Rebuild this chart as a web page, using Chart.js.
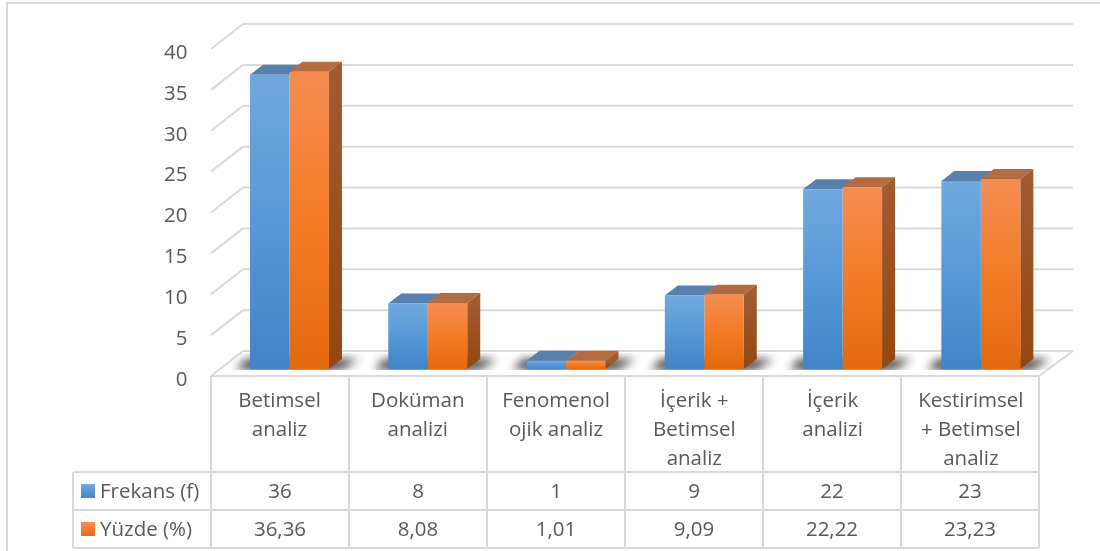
<!DOCTYPE html>
<html lang="tr">
<head>
  <meta charset="UTF-8" />
  <title>Frekans ve Yüzde</title>
  <style>
    html, body { margin: 0; padding: 0; background: #fff; }
    canvas { display: block; }
  </style>
</head>
<body>
  <canvas id="chart" width="1100" height="551"></canvas>
  <script src="https://cdn.jsdelivr.net/npm/chart.js@4/dist/chart.umd.js"></script>
  <script>
    // data
    const categories = [
      ["Betimsel", "analiz"],
      ["Doküman", "analizi"],
      ["Fenomenol", "ojik analiz"],
      ["İçerik +", "Betimsel", "analiz"],
      ["İçerik", "analizi"],
      ["Kestirimsel", "+ Betimsel", "analiz"]
    ];
    const frekans = [36, 8, 1, 9, 22, 23];
    const yuzde = [36.36, 8.08, 1.01, 9.09, 22.22, 23.23];
    const seriesNames = ["Frekans (f)", "Yüzde (%)"];
    const yTicks = [0, 5, 10, 15, 20, 25, 30, 35, 40];

    // look
    const GRID = "#d9d9d9";
    const TEXT = "#595959";
    const FONT = '"Open Sans", sans-serif';
    const FONT_SIZE = 20.5;
    const BLUE = { front: ["#70a8de", "#5699d8", "#3f84c7"], top: "#5780ac", side: "#3a6a9a" };
    const ORANGE = { front: ["#f58d52", "#f47b26", "#e4690f"], top: "#b36b3f", side: ["#a05b31", "#94470f"] };

    // table geometry, and the 3d offsets of the Excel style chart
    const tableLeft = 73, tableX = 211, colW = 138, tableTop = 376;
    const rowLines = [472, 510, 548];
    const depthX = 13, depthY = 10;
    const wallDX = 32, wallDY = 18, floorDY = 7;

    function frontGradient(ctx, colors) {
      const chart = ctx.chart;
      if (!chart.scales.y || ctx.raw === undefined) return colors[1];
      const top = chart.scales.y.getPixelForValue(ctx.raw);
      const bottom = chart.scales.y.getPixelForValue(0);
      if (!Number.isFinite(top) || !Number.isFinite(bottom)) return colors[1];
      const g = chart.ctx.createLinearGradient(0, top, 0, bottom);
      g.addColorStop(0, colors[0]);
      g.addColorStop(0.5, colors[1]);
      g.addColorStop(1, colors[2]);
      return g;
    }

    function line(c, x1, y1, x2, y2) {
      c.beginPath();
      c.moveTo(x1, y1);
      c.lineTo(x2, y2);
      c.stroke();
    }

    function poly(c, pts, fill) {
      c.beginPath();
      pts.forEach((p, i) => (i ? c.lineTo(p[0], p[1]) : c.moveTo(p[0], p[1])));
      c.closePath();
      c.fillStyle = fill;
      c.fill();
    }

    // frame, back wall lines, floor, shadows and the top + side faces of the bars
    const backdrop = {
      id: "backdrop",
      beforeDatasetsDraw(chart) {
        const c = chart.ctx, y = chart.scales.y;
        c.save();
        c.strokeStyle = GRID;
        c.lineWidth = 2;
        line(c, 7, 3, 1100, 3);
        line(c, 7, 2, 7, 551);

        yTicks.forEach(v => {
          const p = y.getPixelForValue(v);
          line(c, tableX, p + floorDY, tableX + wallDX, p - wallDY);
          line(c, tableX + wallDX, p - wallDY, 1073, p - wallDY);
        });
        const p0 = y.getPixelForValue(0);
        line(c, 1039, p0 + floorDY, 1073, p0 - wallDY);

        // floor shadow
        const a = chart.getDatasetMeta(0).data, b = chart.getDatasetMeta(1).data;
        c.save();
        c.beginPath();
        c.rect(tableX, p0 - wallDY + 2, 870, wallDY - 1);
        c.clip();
        c.filter = "blur(5px)";
        a.forEach((bar, i) => {
          const x0 = bar.x - bar.width / 2, x1 = b[i].x + b[i].width / 2;
          poly(c, [[x0 - 14, p0 + 1], [x1 + 12, p0 + 1], [x1 + 30, p0 - 10], [x0 - 4, p0 - 10]], "rgba(0,0,0,0.72)");
        });
        c.restore();

        // top faces first, the fronts are painted over them by the chart
        [a, b].forEach((bars, s) => {
          const st = s ? ORANGE : BLUE;
          bars.forEach(bar => {
            const x0 = bar.x - bar.width / 2, x1 = bar.x + bar.width / 2;
            poly(c, [[x0, bar.y], [x1, bar.y], [x1 + depthX, bar.y - depthY], [x0 + depthX, bar.y - depthY]], st.top);
            if (s) {
              const g = c.createLinearGradient(0, bar.y, 0, bar.base);
              g.addColorStop(0, st.side[0]);
              g.addColorStop(1, st.side[1]);
              poly(c, [[x1, bar.y], [x1 + depthX, bar.y - depthY], [x1 + depthX, bar.base - depthY], [x1, bar.base]], g);
            }
          });
        });
        c.restore();
      },

      // data table under the chart
      afterDraw(chart) {
        const c = chart.ctx;
        const right = tableX + colW * categories.length;
        c.save();
        c.strokeStyle = GRID;
        c.lineWidth = 2;
        line(c, tableX, tableTop, right, tableTop);
        rowLines.forEach(r => line(c, tableLeft, r, right, r));
        line(c, tableLeft, rowLines[0], tableLeft, rowLines[2]);
        for (let i = 0; i <= categories.length; i++) {
          const x = tableX + colW * i;
          line(c, x, tableTop, x, rowLines[2]);
        }

        c.font = FONT_SIZE + "px " + FONT;
        c.fillStyle = TEXT;
        c.textBaseline = "middle";
        [frekans, yuzde].forEach((vals, r) => {
          const cy = (rowLines[r] + rowLines[r + 1]) / 2 + 1;
          c.textAlign = "center";
          vals.forEach((v, i) => {
            c.fillStyle = TEXT;
            c.fillText(String(v).replace(".", ","), tableX + colW * (i + 0.5), cy);
          });
          const st = r ? ORANGE : BLUE;
          const g = c.createLinearGradient(0, cy - 7, 0, cy + 7);
          g.addColorStop(0, st.front[0]);
          g.addColorStop(1, st.front[2]);
          c.fillStyle = g;
          c.fillRect(81, cy - 8, 14, 14);
          c.textAlign = "left";
          c.fillStyle = TEXT;
          c.fillText(seriesNames[r], 100, cy);
        });
        c.restore();
      }
    };

    new Chart(document.getElementById("chart"), {
      type: "bar",
      data: {
        labels: categories,
        datasets: [
          { label: seriesNames[0], data: frekans, backgroundColor: ctx => frontGradient(ctx, BLUE.front) },
          { label: seriesNames[1], data: yuzde, backgroundColor: ctx => frontGradient(ctx, ORANGE.front) }
        ]
      },
      options: {
        responsive: false,
        animation: false,
        devicePixelRatio: 1,
        categoryPercentage: 0.571,
        barPercentage: 1,
        layout: { padding: { top: 42, right: 50, left: 0, bottom: 0 } },
        plugins: { legend: { display: false }, tooltip: { enabled: false } },
        scales: {
          x: {
            grid: { display: false },
            border: { display: false },
            afterFit: s => { s.height = 182; },
            ticks: {
              color: TEXT,
              font: { family: FONT, size: FONT_SIZE, lineHeight: 1.4 },
              autoSkip: false,
              maxRotation: 0,
              minRotation: 0,
              labelOffset: -10,
              padding: 10
            }
          },
          y: {
            min: 0,
            max: 40,
            grid: { display: false },
            border: { display: false },
            afterFit: s => { s.width = 220.35; },
            afterBuildTicks: s => { s.ticks = yTicks.map(value => ({ value })); },
            ticks: {
              color: TEXT,
              font: { family: FONT, size: FONT_SIZE },
              labelOffset: 11,
              padding: 25
            }
          }
        }
      },
      plugins: [backdrop]
    });
  </script>
</body>
</html>
